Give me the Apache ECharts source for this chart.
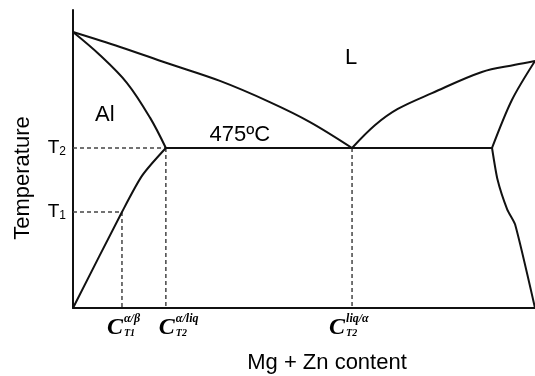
<!DOCTYPE html>
<html>
<head>
<meta charset="utf-8">
<script src="https://cdn.jsdelivr.net/npm/echarts@6/dist/echarts.min.js"></script>
<style>
html,body{margin:0;padding:0;background:#fff;}
#chart{width:535px;height:376px;}
</style>
</head>
<body>
<div id="chart"></div>
<script>
// ---- data (composition 0..100, temperature 0..100) ----
const liquidusLeft  = [[0,92.6],[10.2,87.6],[20.3,82.2],[31.8,76.2],[42.6,69.1],[51.3,62.4],[60.4,53.7]];
const solidusLeft   = [[0,92.6],[5.8,84.9],[11.7,75.5],[16.7,63.8],[20.1,53.7]];
const solvusLeft    = [[0,0],[10.6,32.2],[15,44.5],[20.1,53.7]];
const liquidusRight = [[60.4,53.7],[65.4,61.4],[70.3,66.8],[77.7,72.1],[88.5,79.2],[95.7,81.6],[100,82.9]];
const solidusRight  = [[90.7,53.7],[95,69.8],[100,82.9]];
const solvusRight   = [[90.7,53.7],[91.9,43],[94,33],[95.7,28],[100,0]];
const eutecticLine  = [[20.1,53.7],[90.7,53.7]];

const T2 = 53.7, T1 = 32.2;
const yTickValues = [T2, T1];
const yTickNames  = ['2', '1'];

const xTickValues = [10.6, 20.1, 60.4];
const xTickMain   = ['C', 'C', 'C'];
const xTickSup    = ['α/β', 'α/liq', 'liq/α'];
const xTickSub    = ['T1', 'T2', 'T2'];

const guideLines = [
  [[0,T2],[20.1,T2]],
  [[20.1,T2],[20.1,0]],
  [[0,T1],[10.6,T1]],
  [[10.6,T1],[10.6,0]],
  [[60.4,T2],[60.4,0]]
];

const regionText = ['L', 'Al', '475ºC'];
const regionPos  = [[60.2,83.9],[6.9,64.8],[36.1,58.1]];

// ---- layout / style ----
const ink = '#000';
const sans = 'Liberation Sans, Arial, sans-serif';
const serif = 'Liberation Serif, Times New Roman, serif';
const cShift = [-7, 1, -15];

const chart = echarts.init(document.getElementById('chart'));

function curve(data, smooth) {
  return {type:'line', data:data, smooth:smooth, symbol:'none', silent:true,
    lineStyle:{color:'#111', width:2}, z:3};
}
const series = [
  curve(liquidusLeft, 0.35),
  curve(solidusLeft, 0.35),
  curve(solvusLeft, 0.25),
  curve(liquidusRight, 0.35),
  curve(solidusRight, 0.3),
  curve(solvusRight, 0.2),
  curve(eutecticLine, false)
];
guideLines.forEach(g => series.push({type:'line', data:g, symbol:'none', silent:true,
  lineStyle:{color:'#444', width:1.5, type:[4,3]}, z:2}));

function textPoints(items) {
  return {type:'scatter', symbol:'circle', symbolSize:0, silent:true,
    itemStyle:{color:ink, opacity:1}, emphasis:{disabled:true}, z:5, data:items};
}

// y tick labels
series.push(textPoints(yTickValues.map((v,i)=>({value:[0,v], label:{show:true, position:'left', distance:7,
    formatter:'{t|T}{s|'+yTickNames[i]+'}', opacity:1,
    rich:{t:{fontSize:19, lineHeight:20, fontFamily:sans, color:ink},
          s:{fontSize:12, lineHeight:12, fontFamily:sans, color:ink, verticalAlign:'bottom'}}}}))));

// x tick labels
const xl = [];
const serifLabel = {show:true, position:'inside', opacity:1, textBorderWidth:0,
  fontFamily:serif, fontStyle:'italic', fontWeight:'bold', color:ink, verticalAlign:'middle'};
xTickValues.forEach((v,i)=>{
  xl.push({value:[v,0], label:Object.assign({}, serifLabel, {formatter:xTickMain[i],
    offset:[cShift[i], 20], align:'center', fontSize:24})});
  xl.push({value:[v,0], label:Object.assign({}, serifLabel, {formatter:xTickSup[i],
    offset:[cShift[i]+9, 11], align:'left', fontSize:12})});
  xl.push({value:[v,0], label:Object.assign({}, serifLabel, {formatter:xTickSub[i],
    offset:[cShift[i]+9, 25], align:'left', fontSize:10})});
});
series.push(textPoints(xl));

// region labels
series.push(textPoints(regionText.map((t,i)=>({value:regionPos[i], label:{show:true, position:'inside',
    opacity:1, textBorderWidth:0,
    formatter:t, align:'center', verticalAlign:'middle', fontFamily:sans, fontSize:22, color:ink}}))));

chart.setOption({
  animation:false,
  backgroundColor:'#fff',
  grid:{left:73, right:0, top:10, bottom:68},
  xAxis:{type:'value', min:0, max:100,
    axisLine:{show:true, onZero:false, lineStyle:{color:'#111', width:2}},
    axisTick:{show:false}, axisLabel:{show:false}, splitLine:{show:false}},
  yAxis:{type:'value', min:0, max:100,
    axisLine:{show:true, onZero:false, lineStyle:{color:'#111', width:2}},
    axisTick:{show:false}, axisLabel:{show:false}, splitLine:{show:false}},
  graphic:[
    {type:'text', x:23, y:178, rotation:Math.PI/2,
      style:{text:'Temperature', fontFamily:sans, fontSize:22, fill:ink, align:'center', verticalAlign:'middle'}},
    {type:'text', x:327, y:363,
      style:{text:'Mg + Zn content', fontFamily:sans, fontSize:22, fill:ink, align:'center', verticalAlign:'middle'}}
  ],
  series:series
});
</script>
</body>
</html>
